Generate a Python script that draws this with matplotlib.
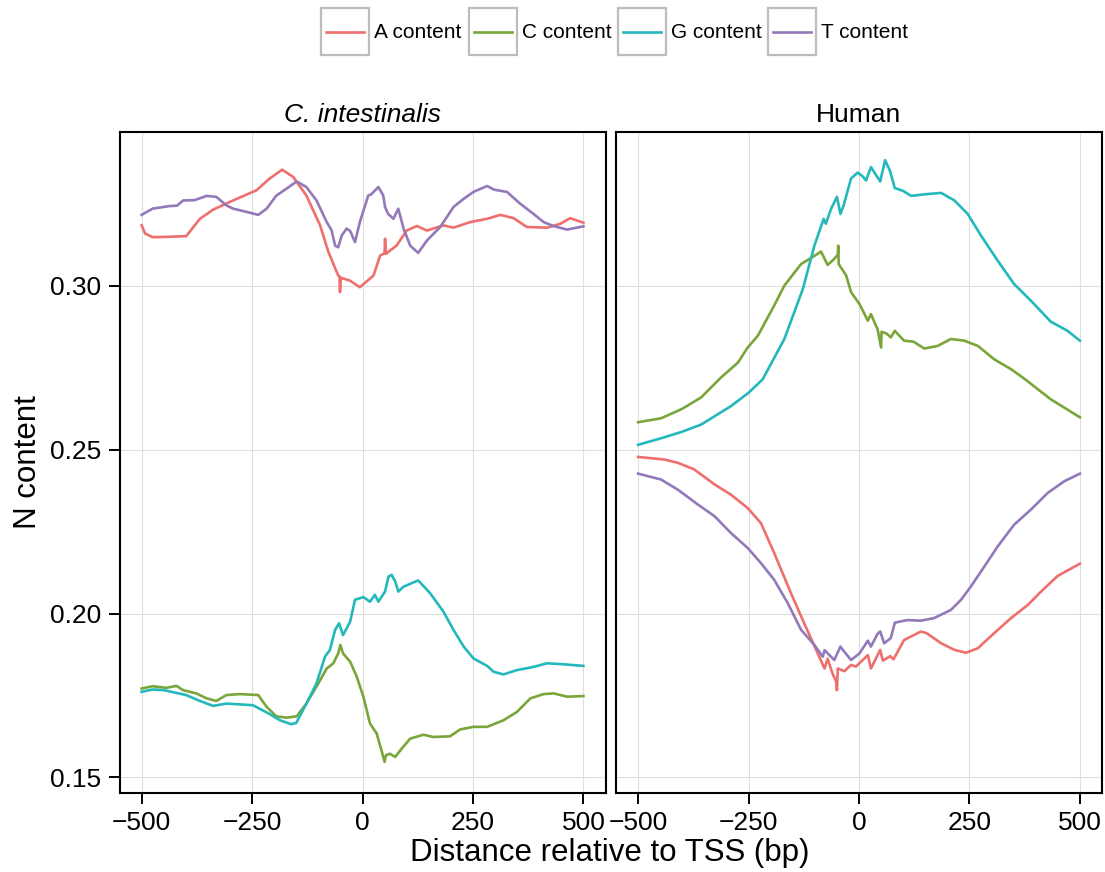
import matplotlib
matplotlib.use('Agg')
import matplotlib.pyplot as plt
from matplotlib.patches import Rectangle
from matplotlib.lines import Line2D

plt.rcParams['font.family'] = ['Liberation Sans', 'DejaVu Sans']

W, H = 1105, 872

series = ['A content', 'C content', 'G content', 'T content']
colors = ['#EE6F6C', '#7AA53A', '#23B8BC', '#9379BA']

# ---- C. intestinalis ----
ci_a_x = [-500, -492, -475, -440, -399, -368, -338, -293, -240, -210, -182, -157, -127, -96, -77, -55, -52, -51, -49,
          -28, -6, 25, 40, 50, 51, 53, 77, 100, 123, 146, 183, 206, 244, 282, 312, 342, 372, 418, 448, 470, 500]
ci_a_y = [0.3185, 0.3160, 0.3149, 0.3150, 0.3152, 0.3205, 0.3233, 0.3261, 0.3292, 0.3328, 0.3355, 0.3333, 0.3276,
          0.3185, 0.3103, 0.3032, 0.3030, 0.2981, 0.3025, 0.3016, 0.2996, 0.3032, 0.3093, 0.3100, 0.3144, 0.3098,
          0.3123, 0.3169, 0.3183, 0.3169, 0.3185, 0.3178, 0.3195, 0.3205, 0.3217, 0.3207, 0.3180, 0.3178, 0.3190,
          0.3207, 0.3193]

ci_t_x = [-500, -475, -436, -420, -406, -380, -353, -331, -308, -293, -262, -236, -217, -195, -172, -149, -127, -104,
          -81, -70, -62, -55, -47, -36, -28, -17, -6, 13, 20, 36, 47, 51, 58, 70, 81, 93, 108, 126, 146, 176, 206,
          229, 251, 282, 298, 327, 357, 387, 410, 432, 463, 500]
ci_t_y = [0.3217, 0.3236, 0.3244, 0.3245, 0.3261, 0.3262, 0.3275, 0.3272, 0.3246, 0.3236, 0.3226, 0.3217, 0.3236,
          0.3276, 0.3297, 0.3319, 0.3302, 0.3261, 0.3195, 0.3170, 0.3123, 0.3118, 0.3154, 0.3175, 0.3168, 0.3134,
          0.3195, 0.3276, 0.3280, 0.3302, 0.3276, 0.3241, 0.3220, 0.3205, 0.3236, 0.3175, 0.3123, 0.3101, 0.3139,
          0.3180, 0.3241, 0.3266, 0.3287, 0.3305, 0.3294, 0.3287, 0.3251, 0.3220, 0.3195, 0.3183, 0.3172, 0.3182]

ci_g_x = [-500, -475, -450, -399, -368, -338, -308, -248, -210, -187, -161, -150, -127, -104, -85, -74, -62, -53, -44,
          -28, -17, 2, 17, 28, 36, 51, 59, 66, 74, 81, 93, 126, 153, 183, 206, 229, 251, 282, 297, 319, 349, 387,
          418, 455, 500]
ci_g_y = [0.1761, 0.1768, 0.1766, 0.1751, 0.1733, 0.1718, 0.1725, 0.1720, 0.1693, 0.1674, 0.1662, 0.1666, 0.1725,
          0.1787, 0.1868, 0.1888, 0.1950, 0.1970, 0.1934, 0.1975, 0.2042, 0.2050, 0.2036, 0.2057, 0.2036, 0.2067,
          0.2113, 0.2118, 0.2098, 0.2067, 0.2082, 0.2101, 0.2062, 0.2006, 0.1950, 0.1899, 0.1863, 0.1840, 0.1822,
          0.1814, 0.1827, 0.1837, 0.1848, 0.1845, 0.1840]

ci_c_x = [-500, -475, -444, -421, -406, -376, -353, -331, -308, -278, -236, -217, -195, -172, -149, -127, -104, -81,
          -66, -55, -50, -44, -28, -13, 2, 17, 32, 44, 50, 53, 62, 74, 89, 108, 138, 160, 198, 221, 251, 282, 319,
          350, 380, 410, 433, 463, 500]
ci_c_y = [0.1771, 0.1778, 0.1773, 0.1779, 0.1766, 0.1756, 0.1741, 0.1733, 0.1751, 0.1754, 0.1751, 0.1715, 0.1686,
          0.1682, 0.1686, 0.1725, 0.1777, 0.1832, 0.1848, 0.1878, 0.1904, 0.1878, 0.1853, 0.1807, 0.1746, 0.1664,
          0.1634, 0.1577, 0.1547, 0.1567, 0.1572, 0.1562, 0.1588, 0.1618, 0.1630, 0.1623, 0.1625, 0.1646, 0.1654,
          0.1654, 0.1674, 0.1700, 0.1741, 0.1754, 0.1756, 0.1746, 0.1748]

# ---- Human ----
hs_a_x = [-500, -440, -410, -373, -327, -290, -252, -222, -192, -154, -124, -97, -78, -71, -60, -51, -50, -48, -33,
          -18, -7, 20, 27, 48, 54, 71, 78, 102, 140, 153, 186, 216, 242, 269, 306, 344, 382, 412, 450, 500]
hs_a_y = [0.2478, 0.2470, 0.2460, 0.2440, 0.2394, 0.2363, 0.2322, 0.2276, 0.2185, 0.2062, 0.1970, 0.1889, 0.1832,
          0.1862, 0.1817, 0.1790, 0.1766, 0.1832, 0.1824, 0.1843, 0.1838, 0.1873, 0.1832, 0.1889, 0.1856, 0.1870,
          0.1860, 0.1919, 0.1945, 0.1940, 0.1909, 0.1889, 0.1880, 0.1894, 0.1940, 0.1986, 0.2026, 0.2067, 0.2115,
          0.2152]

hs_t_x = [-500, -448, -410, -365, -327, -290, -252, -222, -192, -161, -131, -101, -82, -78, -56, -42, -36, -18, 1,
          20, 27, 42, 48, 57, 72, 81, 110, 140, 170, 208, 231, 253, 284, 314, 351, 389, 427, 465, 500]
hs_t_y = [0.2427, 0.2409, 0.2378, 0.2333, 0.2297, 0.2246, 0.2200, 0.2154, 0.2103, 0.2031, 0.1950, 0.1904, 0.1868,
          0.1888, 0.1858, 0.1899, 0.1888, 0.1858, 0.1878, 0.1917, 0.1899, 0.1938, 0.1945, 0.1909, 0.1925, 0.1972,
          0.1980, 0.1978, 0.1986, 0.2011, 0.2042, 0.2082, 0.2144, 0.2205, 0.2271, 0.2317, 0.2368, 0.2404, 0.2427]

hs_g_x = [-500, -448, -400, -357, -290, -249, -218, -169, -127, -101, -80, -75, -63, -50, -42, -35, -18, -3, 8, 16,
          27, 48, 59, 70, 81, 100, 118, 150, 186, 216, 246, 276, 314, 351, 389, 434, 472, 500]
hs_g_y = [0.2515, 0.2535, 0.2555, 0.2577, 0.2633, 0.2675, 0.2715, 0.2838, 0.2991, 0.3123, 0.3205, 0.3190, 0.3236,
          0.3272, 0.3220, 0.3245, 0.3328, 0.3346, 0.3335, 0.3322, 0.3363, 0.3319, 0.3384, 0.3352, 0.3299, 0.3290,
          0.3275, 0.3280, 0.3284, 0.3261, 0.3220, 0.3154, 0.3077, 0.3006, 0.2955, 0.2891, 0.2863, 0.2833]

hs_c_x = [-500, -448, -400, -357, -312, -274, -252, -229, -192, -169, -131, -109, -86, -71, -58, -48, -47, -46, -29,
          -18, 1, 20, 27, 42, 50, 51, 62, 72, 81, 102, 123, 148, 178, 208, 238, 269, 306, 344, 374, 434, 500]
hs_c_y = [0.2584, 0.2596, 0.2625, 0.2660, 0.2721, 0.2766, 0.2812, 0.2848, 0.2940, 0.3001, 0.3067, 0.3085, 0.3105,
          0.3064, 0.3080, 0.3095, 0.3123, 0.3067, 0.3032, 0.2981, 0.2945, 0.2894, 0.2914, 0.2868, 0.2812, 0.2860,
          0.2855, 0.2843, 0.2863, 0.2833, 0.2830, 0.2809, 0.2817, 0.2838, 0.2833, 0.2817, 0.2776, 0.2746, 0.2717,
          0.2654, 0.2599]

panels = [
    ('C. intestinalis', 'italic', [(ci_a_x, ci_a_y), (ci_c_x, ci_c_y), (ci_g_x, ci_g_y), (ci_t_x, ci_t_y)]),
    ('Human', 'normal', [(hs_a_x, hs_a_y), (hs_c_x, hs_c_y), (hs_g_x, hs_g_y), (hs_t_x, hs_t_y)]),
]

xticks = [-500, -250, 0, 250, 500]
yticks = [0.15, 0.20, 0.25, 0.30]

fig = plt.figure(figsize=(W / 100, H / 100), dpi=100, facecolor='white')

lefts = [119.5, 616]
for i, (title, style, data) in enumerate(panels):
    ax = fig.add_axes([lefts[i] / W, (H - 793) / H, 486 / W, 661 / H])
    for (xs, ys), c in zip(data, colors):
        ax.plot(xs, ys, color=c, lw=1.9, solid_joinstyle='round')
    ax.set_xlim(-550, 550)
    ax.set_ylim(0.1452, 0.3470)
    ax.set_xticks(xticks)
    ax.set_yticks(yticks)
    ax.set_yticklabels(['0.15', '0.20', '0.25', '0.30'])
    ax.grid(True, color='#DEDEDE', lw=0.8)
    ax.set_axisbelow(True)
    for sp in ax.spines.values():
        sp.set_color('black')
        sp.set_linewidth(1.5)
    ax.tick_params(direction='out', length=8, width=1.4, color='black',
                   labelsize=19, pad=5)
    if i == 1:
        ax.tick_params(axis='y', left=False, labelleft=False)
    ax.set_title(title, fontsize=19, fontstyle=style, pad=7)

fig.text(28 / W, 1 - 462 / H, 'N content', rotation=90, ha='center', va='center', fontsize=22.5)
fig.text(610 / W, 1 - 853 / H, 'Distance relative to TSS (bp)', ha='center', va='center', fontsize=22.5)

# legend across the top
box_left = [321, 469, 618, 768]
for bx, name, c in zip(box_left, series, colors):
    fig.add_artist(Rectangle((bx / W, 1 - 55 / H), 48 / W, 47 / H, transform=fig.transFigure,
                             facecolor='white', edgecolor='#BDBDBD', lw=1.6))
    fig.add_artist(Line2D([(bx + 5) / W, (bx + 43) / W], [1 - 32 / H, 1 - 32 / H],
                          transform=fig.transFigure, color=c, lw=1.9))
    fig.text((bx + 53) / W, 1 - 32 / H, name, ha='left', va='center', fontsize=15)

fig.savefig('out.png', dpi=100, facecolor='white')
